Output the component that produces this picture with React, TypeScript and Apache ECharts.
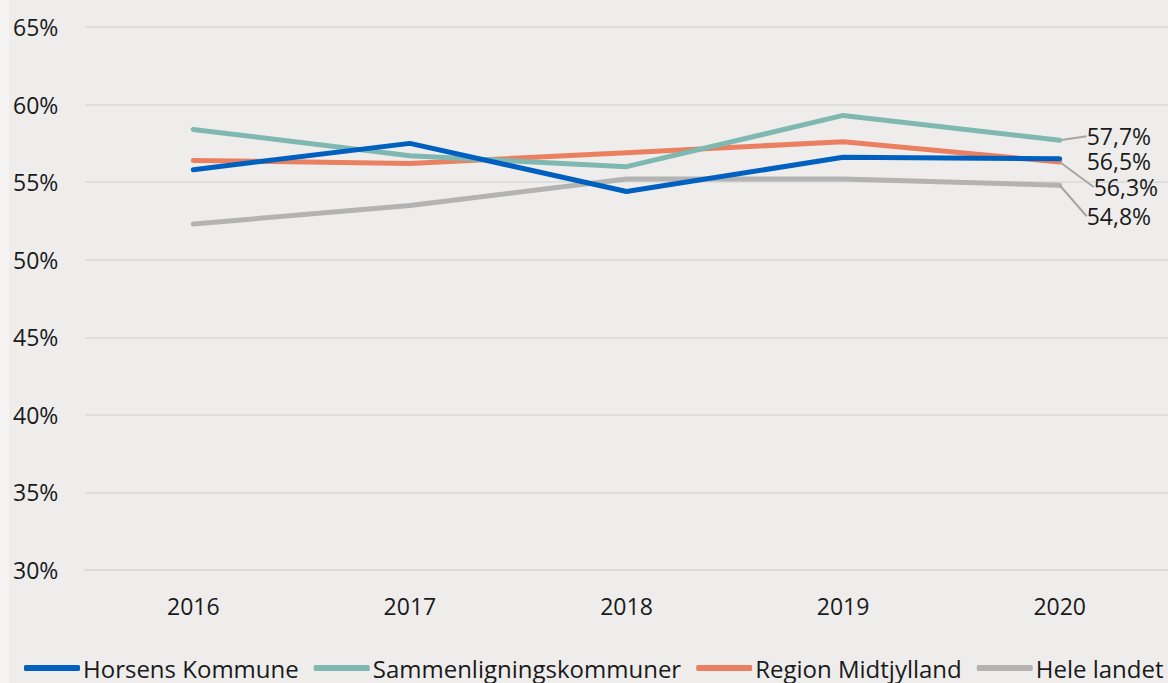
import React, { useEffect, useRef } from "react";
import * as echarts from "echarts";

const years = ["2016", "2017", "2018", "2019", "2020"];
const horsens = [55.8, 57.5, 54.4, 56.6, 56.5];
const sammen = [58.4, 56.7, 56.0, 59.3, 57.7];
const region = [56.4, 56.2, 56.9, 57.6, 56.3];
const hele = [52.3, 53.5, 55.2, 55.2, 54.8];
const seriesNames = ["Horsens Kommune", "Sammenligningskommuner", "Region Midtjylland", "Hele landet"];
const colors = ["#0060c0", "#7fb8b0", "#ea8060", "#b3b3b3"];
const FONT = "'Open Sans', 'Noto Sans', sans-serif";
const FS = 23;

const fmt = (v: number) => v.toFixed(1).replace(".", ",") + "%";

export default function App() {
  const ref = useRef<HTMLDivElement>(null);
  useEffect(() => {
    const chart = echarts.init(ref.current!, null, { renderer: "svg" });
    const all = [horsens, sammen, region, hele];
    const layouts = [
      { dx: 0, dy: 2, line: false },
      { dx: 0, dy: -4, line: true },
      { dx: 7, dy: 25, line: true },
      { dx: 0, dy: 31, line: true },
    ];
    const series = all.map((vals, i) => ({
      name: seriesNames[i],
      type: "line",
      data: vals.map((v, j) =>
        j === vals.length - 1
          ? {
              value: v,
              label: {
                show: true,
                position: "right",
                distance: 27,
                formatter: () => fmt(v),
                color: "#1a1a1a",
                fontSize: FS,
                lineHeight: 20,
                fontFamily: FONT,
              },
              labelLine: { show: layouts[i].line, lineStyle: { color: "#a6a6a6", width: 2 } },
            }
          : v
      ),
      symbol: "circle",
      symbolSize: 0,
      showSymbol: true,
      lineStyle: { color: colors[i], width: 5, cap: "round" },
      itemStyle: { color: colors[i] },
      labelLayout: { dx: layouts[i].dx, dy: layouts[i].dy },
      z: 10 - i,
    }));
    chart.setOption({
      animation: false,
      backgroundColor: "#eeedec",
      textStyle: { fontFamily: FONT },
      graphic: [
        { type: "rect", shape: { x: 0, y: 0, width: 9, height: 683 }, style: { fill: "#f5f4f2" }, z: -10 },
      ],
      grid: { left: 85, right: -5, top: 27, bottom: 113, containLabel: false },
      legend: {
        bottom: -2,
        left: 19,
        width: 1400,
        itemWidth: 56,
        itemHeight: 6,
        itemGap: 15,
        icon: "roundRect",
        data: seriesNames.map((n, i) => ({ name: n, itemStyle: { color: colors[i] } })),
        textStyle: { fontSize: 24, color: "#1a1a1a", fontFamily: FONT, padding: [0, 0, 0, -2] },
      },
      xAxis: {
        type: "category",
        data: years,
        boundaryGap: true,
        axisLine: { show: true, lineStyle: { color: "#d9d9d9", width: 1.5 } },
        axisTick: { show: false },
        axisLabel: { fontSize: FS, color: "#1a1a1a", margin: 24 },
      },
      yAxis: {
        type: "value",
        min: 30,
        max: 65,
        interval: 5,
        axisLine: { show: false },
        axisTick: { show: false },
        splitLine: { lineStyle: { color: "#d9d9d9", width: 1.5 } },
        axisLabel: {
          fontSize: FS,
          color: "#1a1a1a",
          align: "left",
          margin: 72,
          formatter: (v: number) => v + "%",
        },
      },
      series,
    });
    return () => chart.dispose();
  }, []);
  return (
    <div
      ref={ref}
      style={{ position: "fixed", left: 0, top: 0, width: 1168, height: 683 }}
    />
  );
}
